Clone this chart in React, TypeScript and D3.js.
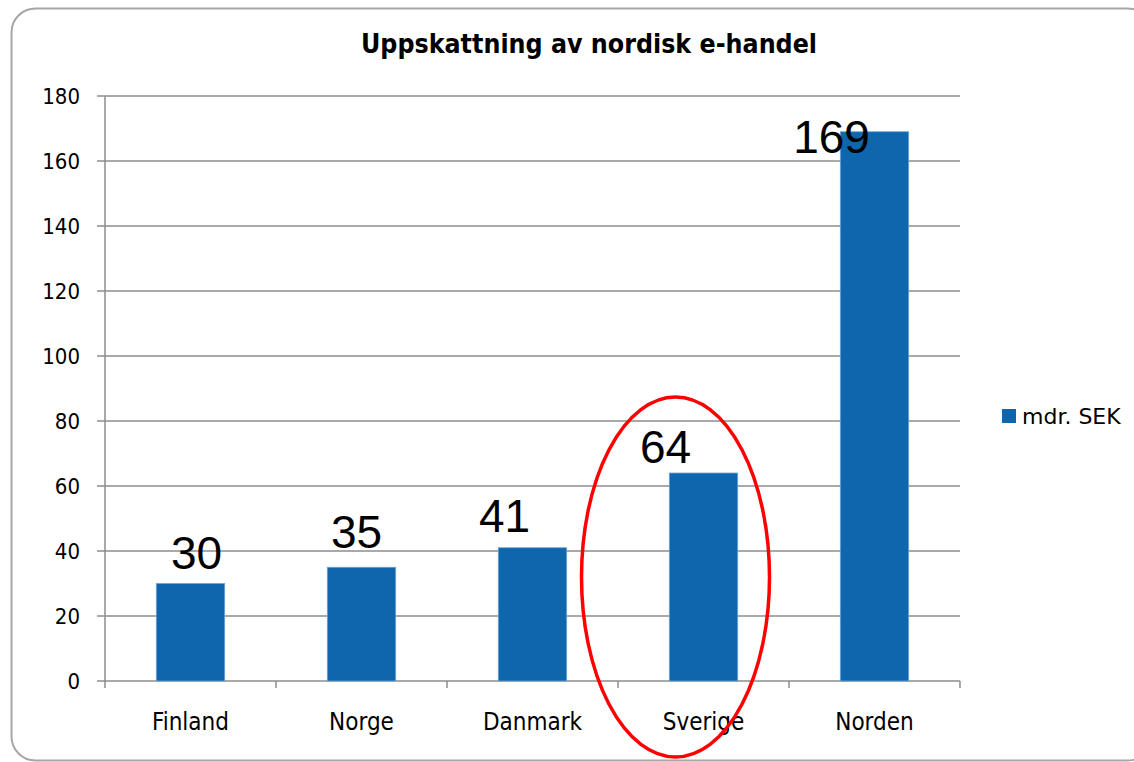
import React from "react";
import * as d3 from "d3";

// values (mdr. SEK)
const countries = ["Finland", "Norge", "Danmark", "Sverige", "Norden"];
const values = [30, 35, 41, 64, 169];
const yTicks = [0, 20, 40, 60, 80, 100, 120, 140, 160, 180];
const seriesName = "mdr. SEK";
const title = "Uppskattning av nordisk e-handel";
// hand-placed label nudges (the labels were dragged around in the original)
const labelDx = [6, -5, -28, -38, -43];
const labelDy = [-15, -19, -16, -10, 21];

const W = 1134;
const H = 762;
const BLUE = "#0e66ad";
const GRID = "#8c8c8c";
const condensed = "'DejaVu Sans Condensed', 'DejaVu Sans', sans-serif";

const App = () => {
  const x = d3.scaleBand<string>().domain(countries).range([105, 960]).padding(0);
  const y = d3.scaleLinear().domain([0, 180]).range([681, 96]);
  const barW = x.bandwidth() * 0.4;
  const sverige = x("Sverige")! + x.bandwidth() / 2;

  return (
    <svg width={W} height={H} style={{ position: "absolute", left: 0, top: 0, background: "#fff" }}>
      <rect x={11.5} y={8.5} width={1140} height={752} rx={24} fill="#fff" stroke="#a6a6a6" strokeWidth={2} />
      <text x={589} y={53} textAnchor="middle" fontFamily={condensed} fontStretch="condensed"
        fontWeight="bold" fontSize={26.5} fill="#000">{title}</text>

      {/* gridlines + y ticks */}
      {yTicks.map(t => (
        <g key={t}>
          <line x1={97} x2={960} y1={y(t)} y2={y(t)} stroke={GRID} strokeWidth={1.5} />
          <text x={80} y={y(t)} dy="0.36em" textAnchor="end" fontFamily={condensed}
            fontStretch="condensed" fontSize={22} fill="#000">{t}</text>
        </g>
      ))}
      {/* y axis */}
      <line x1={105} x2={105} y1={96} y2={681} stroke={GRID} strokeWidth={1.5} />
      {/* x ticks */}
      {[...countries.map(c => x(c)!), 960].map((v, i) => (
        <line key={i} x1={v} x2={v} y1={681} y2={688} stroke={GRID} strokeWidth={1.5} />
      ))}

      {/* bars */}
      {countries.map((c, i) => {
        const cx = x(c)! + x.bandwidth() / 2;
        return (
          <rect key={c} x={cx - barW / 2} y={y(values[i])} width={barW} height={y(0) - y(values[i])}
            fill={BLUE} stroke="#6fa3d3" strokeWidth={0.8} />
        );
      })}

      {/* category labels */}
      {countries.map(c => (
        <text key={c} x={x(c)! + x.bandwidth() / 2} y={730} textAnchor="middle" fontFamily={condensed}
          fontStretch="condensed" fontSize={24} fill="#000">{c}</text>
      ))}

      {/* data labels */}
      {countries.map((c, i) => (
        <text key={c} x={x(c)! + x.bandwidth() / 2 + labelDx[i]} y={y(values[i]) + labelDy[i]}
          textAnchor="middle" fontFamily="'Liberation Sans', Arial, sans-serif" fontSize={46} fill="#000">
          {values[i]}
        </text>
      ))}

      {/* red highlight around Sverige */}
      <ellipse cx={sverige - 28} cy={577} rx={94} ry={180} fill="none" stroke="#ff0000" strokeWidth={3.5} />

      {/* legend */}
      <rect x={1002} y={409} width={14} height={14} fill={BLUE} />
      <text x={1022} y={424} fontFamily="'DejaVu Sans', sans-serif" fontSize={22} fill="#000">{seriesName}</text>
    </svg>
  );
};

export default App;
